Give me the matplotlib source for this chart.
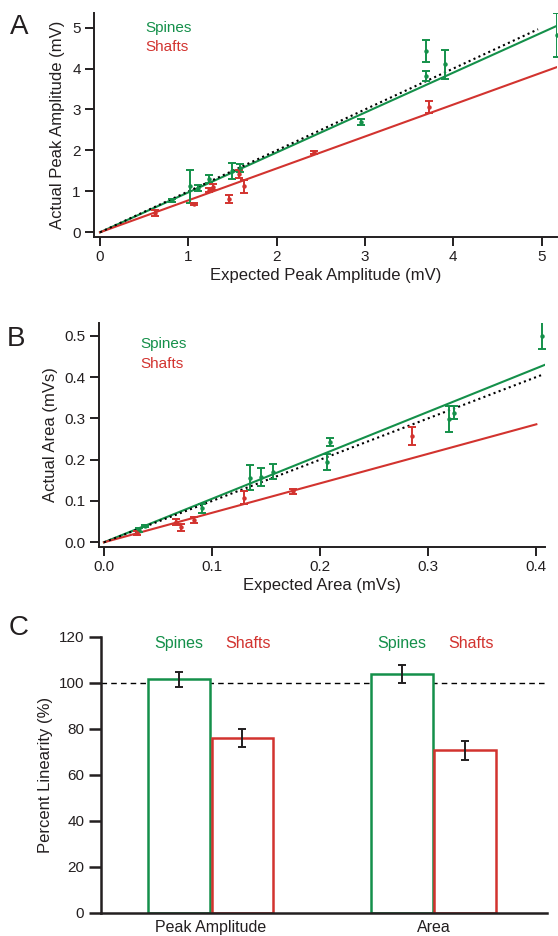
import numpy as np
import matplotlib
matplotlib.use("Agg")
import matplotlib.pyplot as plt

plt.rcParams['font.family'] = ['Liberation Sans', 'DejaVu Sans']

GREEN = '#14904a'
RED = '#d2332f'
INK = '#231f20'

# panel A: peak amplitude (mV)
peak_spine_x = [0.81, 1.02, 1.11, 1.23, 1.50, 1.58, 2.95, 3.69, 3.69, 3.91, 5.17]
peak_spine_y = [0.78, 1.12, 1.08, 1.30, 1.49, 1.58, 2.70, 4.43, 3.81, 4.10, 4.82]
peak_spine_err = [0.03, 0.40, 0.07, 0.10, 0.20, 0.10, 0.07, 0.26, 0.12, 0.35, 0.53]
peak_shaft_x = [0.62, 1.06, 1.23, 1.28, 1.46, 1.57, 1.63, 2.42, 3.72]
peak_shaft_y = [0.47, 0.69, 1.04, 1.10, 0.81, 1.43, 1.12, 1.95, 3.06]
peak_shaft_err = [0.07, 0.03, 0.05, 0.07, 0.10, 0.10, 0.15, 0.04, 0.15]
peak_fit = {'spine': (0.975, 5.17), 'shaft': (0.78, 5.17), 'unity': (1.0, 4.96)}

# panel B: area (mVs)
area_spine_x = [0.032, 0.038, 0.091, 0.135, 0.145, 0.156, 0.206, 0.209, 0.319, 0.324, 0.405]
area_spine_y = [0.030, 0.039, 0.082, 0.156, 0.158, 0.171, 0.194, 0.242, 0.299, 0.314, 0.500]
area_spine_err = [0.005, 0.003, 0.010, 0.030, 0.021, 0.019, 0.019, 0.010, 0.032, 0.015, 0.032]
area_shaft_x = [0.031, 0.067, 0.071, 0.083, 0.130, 0.175, 0.285]
area_shaft_y = [0.022, 0.050, 0.036, 0.054, 0.108, 0.123, 0.257]
area_shaft_err = [0.005, 0.007, 0.008, 0.007, 0.015, 0.005, 0.021]
area_fit = {'spine': (1.053, 0.408), 'shaft': (0.714, 0.400), 'unity': (1.0, 0.407)}

# panel C: percent linearity
categories = ['Peak Amplitude', 'Area']
linear_spines = [101.6, 103.9]
linear_spines_err = [3.2, 4.1]
linear_shafts = [76.1, 70.6]
linear_shafts_err = [4.0, 4.2]


def style_axes(ax, lw, ticklen, pad):
    for s in ['top', 'right']:
        ax.spines[s].set_visible(False)
    for s in ['left', 'bottom']:
        ax.spines[s].set_linewidth(lw)
        ax.spines[s].set_color(INK)
    ax.tick_params(direction='out', length=ticklen, width=lw, color=INK,
                   labelsize=11, labelcolor=INK, pad=pad)


def scatter_panel(ax, sx, sy, se, hx, hy, he, fits):
    for key, col in [('spine', GREEN), ('shaft', RED)]:
        slope, xend = fits[key]
        xx = np.array([0, xend])
        ax.plot(xx, slope * xx, color=col, lw=1.5, zorder=2)
    slope, xend = fits['unity']
    xx = np.array([0, xend])
    ax.plot(xx, slope * xx, color='black', lw=1.5, ls=(0, (1, 1.6)), zorder=3)
    ax.errorbar(sx, sy, yerr=se, fmt='o', ms=2.2, color=GREEN, ecolor=GREEN,
                elinewidth=1.4, capsize=3, capthick=1.4, zorder=4)
    ax.errorbar(hx, hy, yerr=he, fmt='o', ms=2.2, color=RED, ecolor=RED,
                elinewidth=1.4, capsize=3, capthick=1.4, zorder=4)


fig = plt.figure(figsize=(5.58, 9.36), dpi=100)

# ---- A
axA = fig.add_axes([0.1685, 0.7471, 0.829, 0.2387])
scatter_panel(axA, peak_spine_x, peak_spine_y, peak_spine_err,
              peak_shaft_x, peak_shaft_y, peak_shaft_err, peak_fit)
axA.set_xlim(-0.068, 5.17)
axA.set_ylim(-0.108, 5.35)
axA.set_xticks(range(6))
axA.set_yticks(range(6))
style_axes(axA, 1.4, 6.5, 3)
axA.set_xlabel('Expected Peak Amplitude (mV)', fontsize=12, color=INK, labelpad=3)
axA.set_ylabel('Actual Peak Amplitude (mV)', fontsize=12, color=INK, labelpad=5)
axA.text(0.11, 0.915, 'Spines', transform=axA.transAxes, color=GREEN, fontsize=11)
axA.text(0.11, 0.83, 'Shafts', transform=axA.transAxes, color=RED, fontsize=11)
fig.text(0.018, 0.971, 'A', fontsize=20, color=INK, va='center')

# ---- B
axB = fig.add_axes([0.1774, 0.4159, 0.7993, 0.2387])
scatter_panel(axB, area_spine_x, area_spine_y, area_spine_err,
              area_shaft_x, area_shaft_y, area_shaft_err, area_fit)
axB.set_xlim(-0.0046, 0.408)
axB.set_ylim(-0.0107, 0.53)
axB.set_xticks(np.arange(0, 0.41, 0.1))
axB.set_yticks(np.arange(0, 0.51, 0.1))
axB.xaxis.set_major_formatter(matplotlib.ticker.FormatStrFormatter('%.1f'))
axB.yaxis.set_major_formatter(matplotlib.ticker.FormatStrFormatter('%.1f'))
style_axes(axB, 1.4, 6.5, 3)
axB.set_xlabel('Expected Area (mVs)', fontsize=12, color=INK, labelpad=3)
axB.set_ylabel('Actual Area (mVs)', fontsize=12, color=INK, labelpad=5)
axB.text(0.092, 0.89, 'Spines', transform=axB.transAxes, color=GREEN, fontsize=11)
axB.text(0.092, 0.80, 'Shafts', transform=axB.transAxes, color=RED, fontsize=11)
fig.text(0.012, 0.638, 'B', fontsize=20, color=INK, va='center')

# ---- C
axC = fig.add_axes([0.181, 0.0249, 0.7987, 0.2946])
pos = np.arange(len(categories))
off = 0.142
width = 0.277
axC.bar(pos - off, linear_spines, width, facecolor='white', edgecolor=GREEN, lw=1.8)
axC.bar(pos + off, linear_shafts, width, facecolor='white', edgecolor=RED, lw=1.8)
axC.errorbar(pos - off, linear_spines, yerr=linear_spines_err, fmt='none',
             ecolor=INK, elinewidth=1.4, capsize=3, capthick=1.4)
axC.errorbar(pos + off, linear_shafts, yerr=linear_shafts_err, fmt='none',
             ecolor=INK, elinewidth=1.4, capsize=3, capthick=1.4)
axC.axhline(100, color='black', lw=1, ls=(0, (4, 3)), zorder=0)
for p in pos:
    axC.text(p - off, 117, 'Spines', color=GREEN, fontsize=11.5, ha='center', va='center')
    axC.text(p + off + 0.025, 117, 'Shafts', color=RED, fontsize=11.5, ha='center', va='center')
axC.set_xlim(-0.493, 1.508)
axC.set_ylim(0, 120)
axC.set_yticks(range(0, 121, 20))
axC.set_xticks(pos)
axC.set_xticklabels(categories)
style_axes(axC, 1.8, 8.5, 3.5)
axC.tick_params(axis='x', length=0, labelsize=11.5, pad=5)
axC.set_ylabel('Percent Linearity (%)', fontsize=12, color=INK, labelpad=4)
fig.text(0.016, 0.329, 'C', fontsize=20, color=INK, va='center')

fig.savefig('out.png', dpi=100)
